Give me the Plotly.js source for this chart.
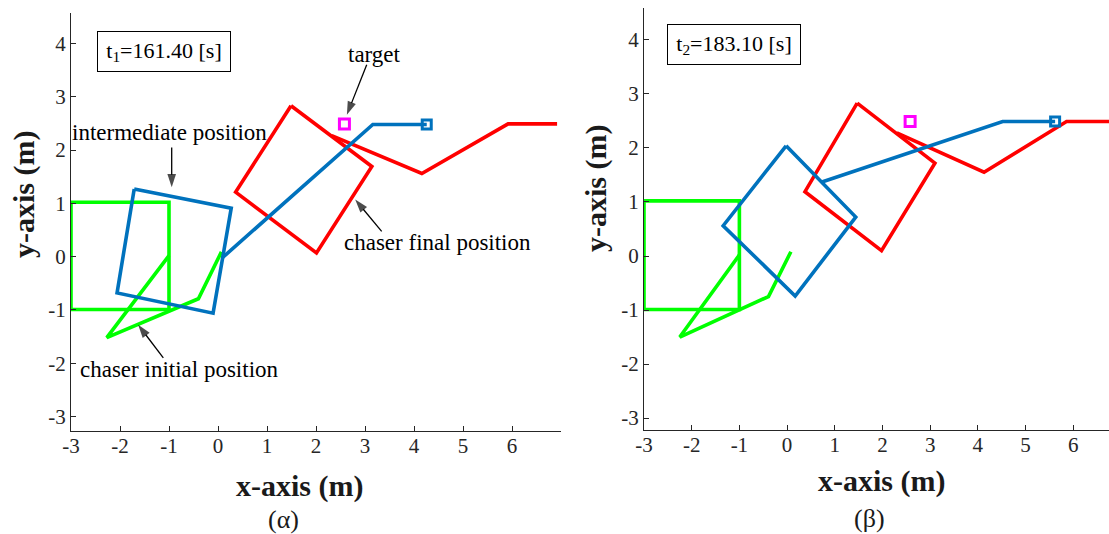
<!DOCTYPE html>
<html>
<head>
<meta charset="utf-8">
<script src="https://cdn.plot.ly/plotly-3.0.1.min.js"></script>
<style>html,body{margin:0;padding:0;background:#fff;}#plot{width:1109px;height:534px;}</style>
</head>
<body>
<div id="plot"></div>
<script>
// ---------- data ----------
// Panel (α)
const a_initBoxX = [-3, -1, -1, -3, -3];
const a_initBoxY = [1.02, 1.02, -0.99, -0.99, 1.02];
const a_initPathX = [-1, -2.27, -0.40, 0.07];
const a_initPathY = [0.02, -1.52, -0.79, 0.09];
const a_midBoxX = [-1.71, 0.27, -0.10, -2.06, -1.71];
const a_midBoxY = [1.27, 0.91, -1.06, -0.68, 1.27];
const a_midPathX = [0.09, 3.16, 4.26];
const a_midPathY = [-0.02, 2.48, 2.48];
const a_finBoxX = [1.49, 3.14, 2.01, 0.36, 1.49];
const a_finBoxY = [2.83, 1.69, 0.07, 1.21, 2.83];
const a_finPathX = [2.32, 4.16, 5.92, 6.92];
const a_finPathY = [2.27, 1.56, 2.49, 2.49];
// Panel (β)
const b_initBoxX = [-3, -1, -1, -3, -3];
const b_initBoxY = [1.02, 1.02, -0.99, -0.99, 1.02];
const b_initPathX = [-1, -2.25, -0.39, 0.08];
const b_initPathY = [0.02, -1.50, -0.75, 0.08];
const b_midBoxX = [-0.02, 1.44, 0.17, -1.34, -0.02];
const b_midBoxY = [2.04, 0.72, -0.74, 0.56, 2.04];
const b_midPathX = [0.73, 4.52, 5.62];
const b_midPathY = [1.37, 2.49, 2.49];
const b_finBoxX = [1.47, 3.10, 1.98, 0.375, 1.47];
const b_finBoxY = [2.83, 1.72, 0.10, 1.19, 2.83];
const b_finPathX = [2.30, 4.13, 5.86, 6.92];
const b_finPathY = [2.28, 1.55, 2.49, 2.49];
const targetX = [2.58];
const targetY = [2.49];

// callout arrows in panel (α): [tailX, headX], [tailY, headY]
const arrowTargetX = [3.035, 2.63];
const arrowTargetY = [3.60, 2.66];
const arrowMidX = [-0.945, -0.945];
const arrowMidY = [2.045, 1.30];
const arrowFinalX = [3.34, 2.80];
const arrowFinalY = [0.475, 1.07];
const arrowInitX = [-1.116, -1.63];
const arrowInitY = [-1.90, -1.276];

const xTickVals = [-3, -2, -1, 0, 1, 2, 3, 4, 5, 6];
const xTickText = ['-3', '-2', '-1', '0', '1', '2', '3', '4', '5', '6'];
const yTickVals = [-3, -2, -1, 0, 1, 2, 3, 4];
const yTickText = ['-3', '-2', '-1', '0', '1', '2', '3', '4'];

const timeLabels = ['t<sub>1</sub>=161.40 [s]', 't<sub>2</sub>=183.10 [s]'];
const panelLabels = ['(α)', '(β)'];

// ---------- styling ----------
const GREEN = '#00ff00', BLUE = '#0072bd', RED = '#ff0000', MAG = '#ff00ff';
const LW = 3.6;
const SERIF = 'Liberation Serif, Times New Roman, serif';
const AX = '#262626';

function line(x, y, color, xa, ya) {
  return {x: x, y: y, type: 'scatter', mode: 'lines', line: {color: color, width: LW},
          xaxis: xa, yaxis: ya, hoverinfo: 'skip', showlegend: false};
}
function endMarker(x, y, xa, ya) {
  return {x: [x[x.length - 1]], y: [y[y.length - 1]], type: 'scatter', mode: 'markers',
          marker: {symbol: 'square-open', size: 9, color: BLUE, line: {width: 3, color: BLUE}},
          xaxis: xa, yaxis: ya, showlegend: false, hoverinfo: 'skip'};
}
function target(xa, ya) {
  return {x: targetX, y: targetY, type: 'scatter', mode: 'markers',
          marker: {symbol: 'square-open', size: 10, color: MAG, line: {width: 3, color: MAG}},
          xaxis: xa, yaxis: ya, showlegend: false, hoverinfo: 'skip'};
}
function callout(x, y) {
  return {x: x, y: y, type: 'scatter', mode: 'lines+markers',
          line: {color: '#000', width: 1.3},
          marker: {symbol: ['circle', 'arrow'], size: [0, 14], angleref: 'previous', color: '#000',
                   line: {width: 0}},
          xaxis: 'x', yaxis: 'y', showlegend: false, hoverinfo: 'skip'};
}

const data = [
  line(a_initBoxX, a_initBoxY, GREEN, 'x', 'y'),
  line(a_initPathX, a_initPathY, GREEN, 'x', 'y'),
  line(a_finBoxX, a_finBoxY, RED, 'x', 'y'),
  line(a_finPathX, a_finPathY, RED, 'x', 'y'),
  line(a_midBoxX, a_midBoxY, BLUE, 'x', 'y'),
  line(a_midPathX, a_midPathY, BLUE, 'x', 'y'),
  endMarker(a_midPathX, a_midPathY, 'x', 'y'),
  target('x', 'y'),
  callout(arrowTargetX, arrowTargetY),
  callout(arrowMidX, arrowMidY),
  callout(arrowFinalX, arrowFinalY),
  callout(arrowInitX, arrowInitY),
  line(b_initBoxX, b_initBoxY, GREEN, 'x2', 'y2'),
  line(b_initPathX, b_initPathY, GREEN, 'x2', 'y2'),
  line(b_finBoxX, b_finBoxY, RED, 'x2', 'y2'),
  line(b_finPathX, b_finPathY, RED, 'x2', 'y2'),
  line(b_midBoxX, b_midBoxY, BLUE, 'x2', 'y2'),
  line(b_midPathX, b_midPathY, BLUE, 'x2', 'y2'),
  endMarker(b_midPathX, b_midPathY, 'x2', 'y2'),
  target('x2', 'y2')
];

function xAxis(domain, range, anchor) {
  return {domain: domain, range: range, anchor: anchor, showline: true, linecolor: AX, linewidth: 1,
          ticks: 'inside', ticklen: 5, tickwidth: 1, tickcolor: AX, tickvals: xTickVals, ticktext: xTickText,
          ticklabelstandoff: -4,
          showgrid: false, zeroline: false, tickfont: {family: SERIF, size: 21, color: AX}, fixedrange: true};
}
function yAxis(domain, range, anchor) {
  return {domain: domain, range: range, anchor: anchor, showline: true, linecolor: AX, linewidth: 1,
          ticks: 'inside', ticklen: 5, tickwidth: 1, tickcolor: AX, tickvals: yTickVals, ticktext: yTickText,
          showgrid: false, zeroline: false, tickfont: {family: SERIF, size: 21, color: AX}, fixedrange: true};
}

const txtFont = {family: SERIF, size: 23, color: '#000'};
function label(text, x, y, xref, yref) {
  return {text: text, x: x, y: y, xref: xref, yref: yref, showarrow: false, font: txtFont,
          xanchor: 'center', yanchor: 'middle'};
}
function box(text, x, y, xref, yref) {
  return {text: text, x: x, y: y, xref: xref, yref: yref, showarrow: false,
          font: {family: SERIF, size: 22, color: '#000'},
          bordercolor: '#000', borderwidth: 1, borderpad: 3, bgcolor: '#fff',
          width: 126, height: 33, xanchor: 'center', yanchor: 'middle'};
}
function paperText(text, px, py, size, bold, angle) {
  return {text: text, x: px / 1109, y: 1 - py / 534,
          xref: 'paper', yref: 'paper', showarrow: false, textangle: angle || 0,
          font: {family: SERIF, size: size, color: '#1a1a1a', weight: bold ? 'bold' : 'normal'},
          xanchor: 'center', yanchor: 'middle'};
}

const annotations = [
  box(timeLabels[0], -1.10, 3.855, 'x', 'y'),
  box(timeLabels[1], -1.11, 3.907, 'x2', 'y2'),
  label('target', 3.20, 3.79, 'x', 'y'),
  label('intermediate position', -0.98, 2.33, 'x', 'y'),
  label('chaser final position', 4.48, 0.263, 'x', 'y'),
  label('chaser initial position', -0.776, -2.12, 'x', 'y'),
  paperText('y-axis (m)', 24, 195, 30, true, -90),
  paperText('y-axis (m)', 596, 189, 30, true, -90),
  paperText('x-axis (m)', 300, 486, 30, true, 0),
  paperText('x-axis (m)', 881, 481, 30, true, 0),
  paperText(panelLabels[0], 283, 519, 26, false, 0),
  paperText(panelLabels[1], 869, 518, 26, false, 0)
];

const layout = {
  width: 1109, height: 534,
  margin: {l: 0, r: 0, t: 0, b: 0, pad: 0},
  paper_bgcolor: '#fff', plot_bgcolor: '#fff',
  showlegend: false,
  xaxis: xAxis([71 / 1109, 561 / 1109], [-3, 7], 'y'),
  yaxis: yAxis([(534 - 431) / 534, (534 - 13) / 534], [-3.27, 4.57], 'x'),
  xaxis2: xAxis([644 / 1109, 1], [-3, 6.75], 'y2'),
  yaxis2: yAxis([(534 - 430) / 534, (534 - 8) / 534], [-3.22, 4.59], 'x2'),
  annotations: annotations
};

Plotly.newPlot('plot', data, layout, {displayModeBar: false, staticPlot: true}).then(function () {
  // drop the invisible, empty axis-title placeholders Plotly creates
  document.querySelectorAll('#plot text').forEach(function (t) {
    if (!t.textContent.trim()) t.remove();
  });
});
</script>
</body>
</html>
